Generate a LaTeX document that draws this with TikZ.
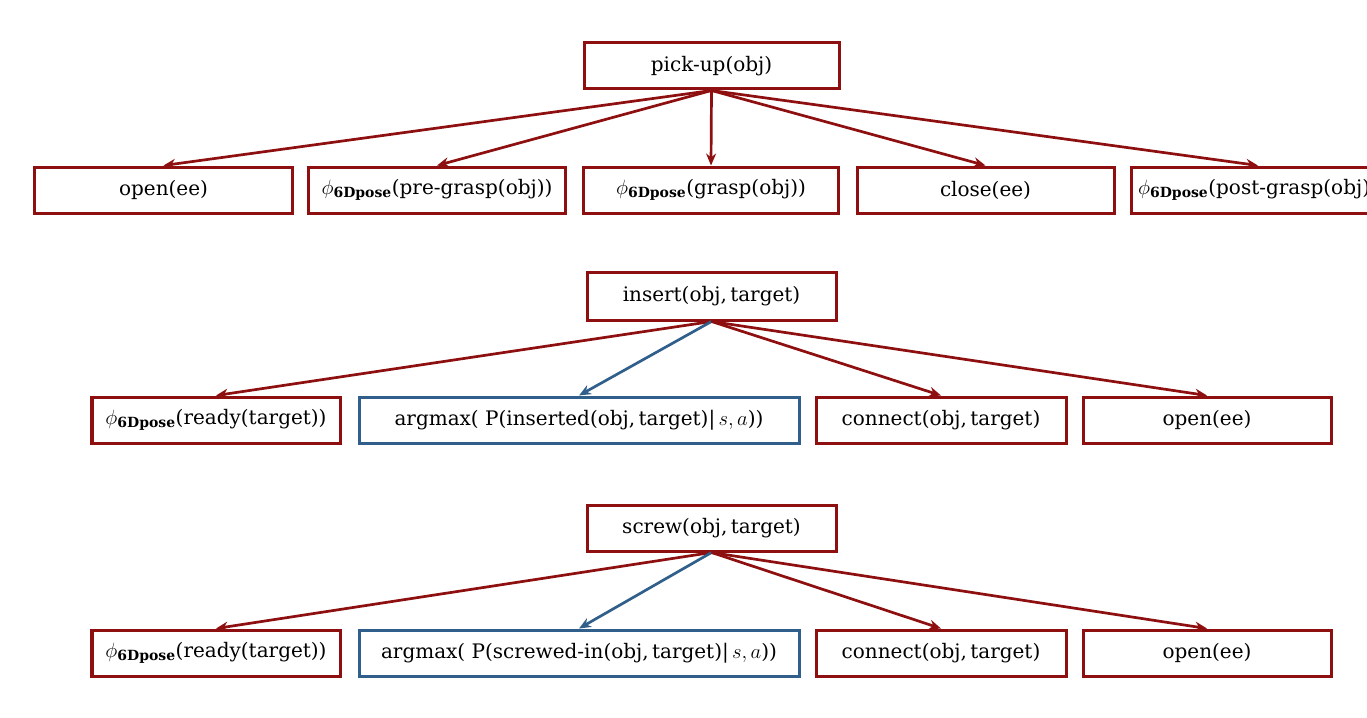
\documentclass[tikz,border=0pt]{standalone}
\usepackage{fontspec}
\setmainfont{DejaVu Serif}
\usetikzlibrary{arrows.meta}
\definecolor{dred}{HTML}{8E0F0F}
\definecolor{dblue}{HTML}{2F5F8A}
\newcommand{\phipose}{$\phi_{\mathbf{6Dpose}}$}
\begin{document}
\begin{tikzpicture}[x=1bp,y=1bp,
  box/.style={draw=dred,line width=3bp,inner sep=0pt,minimum height=46bp,
    font=\fontsize{20bp}{23bp}\selectfont,align=center},
  bbox/.style={box,draw=dblue},
  arr/.style={draw=dred,line width=2.7bp,-{Stealth[length=12bp,width=10bp]}},
  barr/.style={arr,draw=dblue}]
\useasboundingbox (0,0) rectangle (1367,-717);
\clip (0,0) rectangle (1367,-717);
% row 1
\node[box,minimum width=255bp] (pick) at (711.5,-66) {pick-up(obj)};
\node[box,minimum width=257bp] (open1) at (163.5,-190) {open(ee)};
\node[box,minimum width=257bp] (pre) at (437,-190) {\phipose(pre-grasp(obj))};
\node[box,minimum width=255bp] (grasp) at (711,-190) {\phipose(grasp(obj))};
\node[box,minimum width=257bp] (close) at (985.5,-190) {close(ee)};
\node[box,minimum width=254bp] (post) at (1258,-190) {\phipose(post-grasp(obj))};
\draw[arr] (pick.south) -- (open1.north);
\draw[arr] (pick.south) -- (pre.north);
\draw[arr] (pick.south) -- (grasp.north);
\draw[arr] (pick.south) -- (close.north);
\draw[arr] (pick.south) -- (post.north);
% row 2
\node[box,minimum width=249bp,minimum height=48bp] (ins) at (711.5,-296) {insert(obj,\,target)};
\node[box,minimum width=248bp] (r2a) at (216,-420) {\phipose(ready(target))};
\node[bbox,minimum width=440bp] (r2b) at (579,-420) {argmax( P(inserted(obj,\,target)|\,$s,a$))};
\node[box,minimum width=250bp] (r2c) at (941,-420) {connect(obj,\,target)};
\node[box,minimum width=248bp] (r2d) at (1207,-420) {open(ee)};
\draw[arr] (ins.south) -- (r2a.north);
\draw[barr] (ins.south) -- (r2b.north);
\draw[arr] (ins.south) -- (r2c.north);
\draw[arr] (ins.south) -- (r2d.north);
% row 3
\node[box,minimum width=249bp] (scr) at (711.5,-528) {screw(obj,\,target)};
\node[box,minimum width=248bp] (r3a) at (216,-653) {\phipose(ready(target))};
\node[bbox,minimum width=440bp] (r3b) at (579,-653) {argmax( P(screwed-in(obj,\,target)|\,$s,a$))};
\node[box,minimum width=250bp] (r3c) at (941,-653) {connect(obj,\,target)};
\node[box,minimum width=248bp] (r3d) at (1207,-653) {open(ee)};
\draw[arr] (scr.south) -- (r3a.north);
\draw[barr] (scr.south) -- (r3b.north);
\draw[arr] (scr.south) -- (r3c.north);
\draw[arr] (scr.south) -- (r3d.north);
\end{tikzpicture}
\end{document}
